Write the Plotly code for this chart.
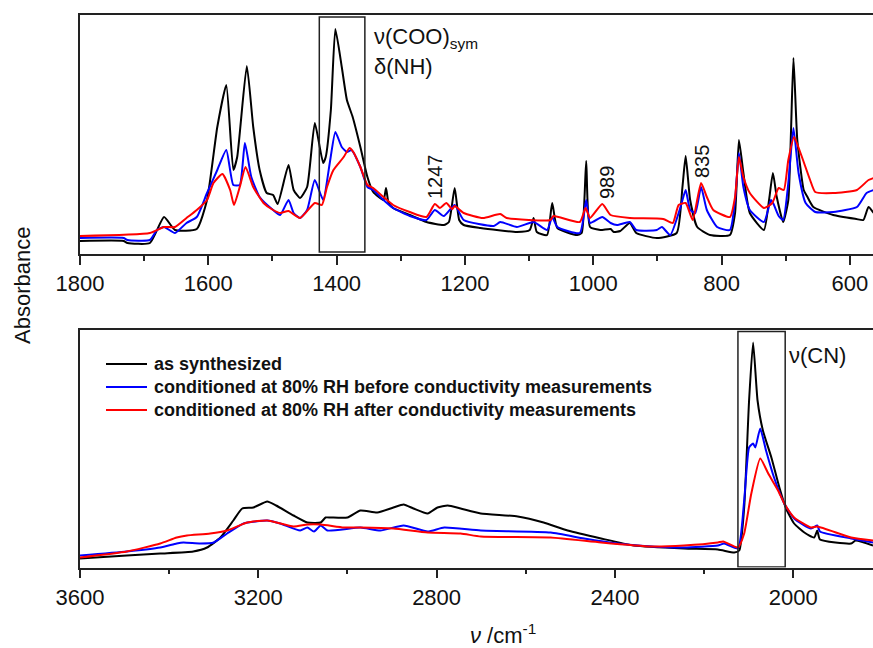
import plotly.graph_objects as go

W, H = 873, 648

# ---------------- data: top panel (fingerprint region) ----------------
top_black_wn = [1800,1732,1726,1691,1669,1652,1618,1602,1586,1572,1561,1555,1540,1530,1520,1509,1499,1492,1475,1467,1457,1446,1434,1421,1417,1409,1402,1392,1384,1375,1363,1352,1343,1327,1323,1319,1312,1286,1260,1233,1225,1216,1209,1202,1176,1119,1099,1093,1088,1072,1064,1056,1025,1018,1011,1005,989,973,968,958,943,933,901,870,861,856,849,838,818,787,779,773,766,756,734,726,720,714,704,696,688,682,672,667,657,626,590,579,571,563]
top_black_ab = [13,13,11,11,37,24,25,54,127,169,84,97,188,127,84,61,59,50,89,64,56,67,131,91,97,144,225,187,154,137,107,77,62,54,66,51,46,39,32,29,32,66,34,29,26,22,24,36,22,19,51,26,19,21,93,27,24,25,22,23,31,21,16,21,67,98,54,27,19,19,41,114,81,41,24,54,81,57,32,54,196,114,64,58,47,39,35,34,47,41]

top_blue_wn = [1800,1732,1726,1691,1680,1669,1652,1634,1618,1602,1586,1572,1561,1551,1543,1533,1520,1499,1488,1475,1467,1457,1446,1434,1421,1410,1402,1392,1384,1377,1363,1352,1343,1327,1312,1286,1260,1247,1233,1216,1202,1155,1145,1119,1093,1072,1064,1056,1021,1011,1005,986,973,963,943,933,901,893,880,864,856,849,841,832,823,807,787,779,773,766,756,734,723,719,711,704,696,688,680,669,654,626,589,574,563]
top_blue_ab = [16,16,14,14,24,27,21,31,37,61,84,104,69,69,111,77,57,44,39,54,41,36,44,74,54,94,122,107,102,104,87,67,64,54,46,38,34,44,38,49,34,28,32,27,32,24,37,27,21,54,31,37,31,29,32,24,24,27,19,47,64,44,41,67,44,27,24,54,101,67,44,32,54,50,38,34,71,126,81,51,42,42,47,61,64]

top_red_wn = [1800,1691,1669,1652,1634,1618,1602,1592,1578,1566,1560,1551,1542,1530,1514,1499,1488,1475,1457,1434,1423,1415,1405,1389,1380,1374,1363,1352,1343,1327,1312,1286,1260,1247,1239,1229,1220,1216,1202,1172,1145,1135,1067,1062,1021,1012,1005,986,973,943,891,876,867,856,845,832,823,813,787,779,773,766,756,734,721,711,703,696,687,677,662,654,626,589,571,563]
top_red_ab = [18,21,27,27,36,44,54,71,80,64,49,67,87,67,51,44,41,43,36,51,49,67,84,97,106,102,87,69,66,57,49,42,37,50,46,51,45,48,41,36,40,36,34,38,32,46,36,50,39,36,35,31,49,51,34,71,57,44,37,57,97,77,61,46,51,66,64,94,117,101,74,62,61,64,74,76]

# ---------------- data: bottom panel (high wavenumber region) ----------------
bot_black_wn = [3600,3495,3420,3346,3315,3285,3256,3236,3211,3180,3160,3121,3090,3060,3049,3038,3000,2971,2933,2897,2874,2852,2820,2798,2775,2746,2701,2618,2560,2506,2431,2357,2245,2169,2132,2121,2110,2099,2090,2080,2068,2049,2031,2016,1998,1975,1953,1946,1940,1870,1860,1821]
bot_black_ab = [9,12,14,16,20,30,47,59,60,66,62,52,45,45,50,50,50,57,55,60,63,59,54,60,62,59,54,51,45,37,29,22,19,18,15,17,60,167,225,167,137,110,80,59,44,35,30,37,28,24,27,22]

bot_blue_wn = [3600,3495,3420,3383,3368,3330,3300,3270,3233,3180,3151,3106,3090,3075,3060,3045,2971,2926,2874,2820,2783,2701,2544,2469,2394,2319,2245,2169,2155,2124,2110,2099,2090,2085,2074,2061,2043,2020,1998,1960,1946,1940,1870,1821]
bot_blue_ab = [12,16,20,24,25,24,25,34,44,47,44,37,40,36,42,37,40,37,42,36,40,37,35,29,24,21,20,22,24,19,67,120,124,120,139,117,90,64,49,39,42,36,29,25]

bot_red_wn = [3600,3495,3420,3383,3360,3308,3270,3225,3180,3121,3090,3060,3008,2971,2897,2820,2746,2701,2544,2431,2319,2245,2169,2157,2124,2110,2094,2074,2056,2034,2020,1998,1960,1946,1870,1821]
bot_red_ab = [10,16,24,30,32,34,37,45,47,41,43,43,40,40,39,35,34,31,30,25,21,22,25,26,20,34,74,109,94,77,64,50,40,41,30,27]

series_names = ["as synthesized",
                "conditioned at 80% RH before conductivity measurements",
                "conditioned at 80% RH after conductivity measurements"]
series_colors = ["#000000", "#0000ff", "#ff0000"]

top_ticks = [1800, 1600, 1400, 1200, 1000, 800, 600]
bot_ticks = [3600, 3200, 2800, 2400, 2000]

FONT = "Arial, Liberation Sans, sans-serif"

def px(x):
    return x / W

def py(y):
    return 1 - y / H

fig = go.Figure()

top_sets = [(top_black_wn, top_black_ab), (top_blue_wn, top_blue_ab), (top_red_wn, top_red_ab)]
bot_sets = [(bot_black_wn, bot_black_ab), (bot_blue_wn, bot_blue_ab), (bot_red_wn, bot_red_ab)]

for (wn, ab), c, n in zip(top_sets, series_colors, series_names):
    fig.add_trace(go.Scatter(x=wn, y=ab, mode="lines", name=n, showlegend=False,
                             line=dict(color=c, width=2, shape="spline", smoothing=0.5),
                             xaxis="x", yaxis="y"))
for (wn, ab), c, n in zip(bot_sets, series_colors, series_names):
    fig.add_trace(go.Scatter(x=wn, y=ab, mode="lines", name=n, showlegend=False,
                             line=dict(color=c, width=2, shape="spline", smoothing=0.5),
                             xaxis="x2", yaxis="y2"))

axis_common = dict(showline=True, linecolor="#222", linewidth=1.5, mirror=True,
                   ticks="outside", ticklen=9, tickwidth=1.5, tickcolor="#222",
                   showgrid=False, zeroline=False, ticklabeloverflow="allow",
                   tickfont=dict(family=FONT, size=22, color="#111"),
                   automargin=False)

fig.update_layout(
    width=W, height=H,
    margin=dict(l=0, r=0, t=0, b=0),
    paper_bgcolor="white", plot_bgcolor="white",
    xaxis=dict(domain=[px(80), 1], range=[1800, 564], anchor="y",
               tickvals=top_ticks, ticktext=[str(t) for t in top_ticks],
               minor=dict(dtick=100, ticks="outside", ticklen=5, tickwidth=1.5, tickcolor="#222", showgrid=False),
               **axis_common),
    yaxis=dict(domain=[py(254), py(15)], range=[0, 239], anchor="x",
               showline=True, linecolor="#222", linewidth=1.5, mirror=False,
               showticklabels=False, ticks="", showgrid=False, zeroline=False),
    xaxis2=dict(domain=[px(80), 1], range=[3600, 1821], anchor="y2",
                tickvals=bot_ticks, ticktext=[str(t) for t in bot_ticks],
                minor=dict(dtick=200, ticks="outside", ticklen=5, tickwidth=1.5, tickcolor="#222", showgrid=False),
                **axis_common),
    yaxis2=dict(domain=[py(567.5), py(329.5)], range=[0, 238], anchor="x2",
                showline=True, linecolor="#222", linewidth=1.5, mirror=False,
                showticklabels=False, ticks="", showgrid=False, zeroline=False),
    showlegend=False,
)

# highlight boxes
fig.add_shape(type="rect", xref="x", yref="y", x0=1427, x1=1356, y0=2, y1=237,
              line=dict(color="#222", width=1.5), fillcolor="rgba(0,0,0,0)")
fig.add_shape(type="rect", xref="x2", yref="y2", x0=2124, x1=2018, y0=0.5, y1=236,
              line=dict(color="#222", width=1.5), fillcolor="rgba(0,0,0,0)")

ann_font = dict(family=FONT, size=22, color="#111")
fig.add_annotation(x=px(372), y=py(38), xref="paper", yref="paper", xanchor="left", yanchor="middle",
                   text="ν(COO)<sub>sym</sub>", showarrow=False, font=ann_font)
fig.add_annotation(x=px(372), y=py(66), xref="paper", yref="paper", xanchor="left", yanchor="middle",
                   text="δ(NH)", showarrow=False, font=ann_font)
fig.add_annotation(x=px(787), y=py(355), xref="paper", yref="paper", xanchor="left", yanchor="middle",
                   text="ν(CN)", showarrow=False, font=ann_font)

num_font = dict(family=FONT, size=20, color="#111")
for lab, xx, yy in [("1247", 435, 177), ("989", 607, 183), ("835", 702, 162)]:
    fig.add_annotation(x=px(xx), y=py(yy), xref="paper", yref="paper", xanchor="center", yanchor="middle",
                       text=lab, textangle=-90, showarrow=False, font=num_font)

# axis titles
fig.add_annotation(x=px(22), y=py(286), xref="paper", yref="paper", xanchor="center", yanchor="middle",
                   text="Absorbance", textangle=-90, showarrow=False, font=ann_font)
fig.add_annotation(x=px(503), y=py(634), xref="paper", yref="paper", xanchor="center", yanchor="middle",
                   text="<i>ν</i> /cm<sup>-1</sup>", showarrow=False, font=ann_font)

# legend (drawn manually inside the lower panel)
for i, (n, c) in enumerate(zip(series_names, series_colors)):
    yy = 364 + 23 * i
    fig.add_shape(type="line", xref="paper", yref="paper", x0=px(106), x1=px(147), y0=py(yy), y1=py(yy),
                  line=dict(color=c, width=2))
    fig.add_annotation(x=px(152), y=py(yy), xref="paper", yref="paper", xanchor="left", yanchor="middle",
                       text="<b>" + n + "</b>", showarrow=False,
                       font=dict(family=FONT, size=18, color="#111"))

fig.write_html("out.html", config={"displayModeBar": False},
               post_script="document.body.style.margin='0';document.body.style.overflow='hidden';")
